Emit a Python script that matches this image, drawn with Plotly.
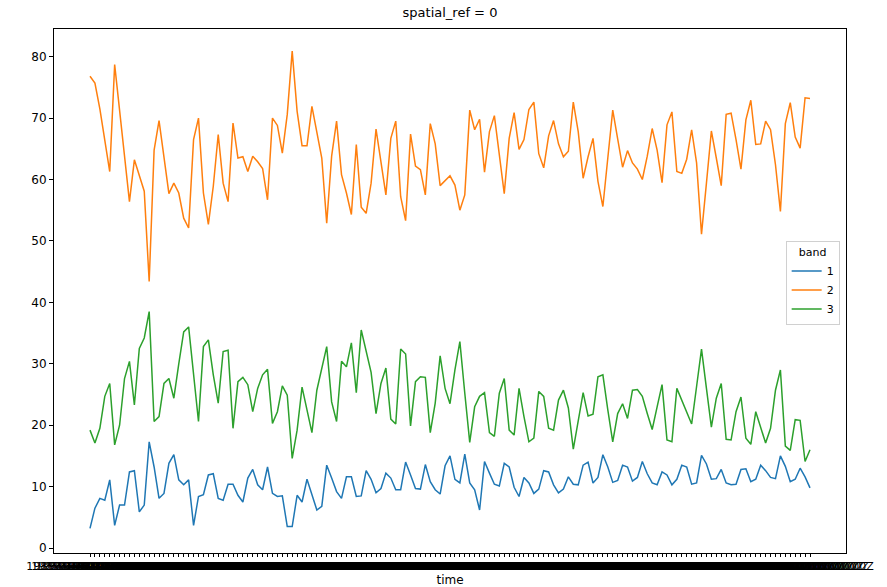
import plotly.graph_objects as go
import pandas as pd

# time categories (labels are illegible in the reference; quarterly dates used)
time_labels = [d.strftime("%Y-%m-%dT%H:%M:%SZ") for d in pd.date_range("1985-01-01", periods=147, freq="QS")]

band_names = ["1", "2", "3"]

band1 = [3.2, 6.5, 8.1, 7.8, 11.1, 3.7, 7.0, 7.0, 12.4, 12.6, 5.9, 7.0, 17.3, 13.2, 8.1, 8.9, 13.8, 15.2,
         11.1, 10.3, 11.1, 3.7, 8.4, 8.7, 11.9, 12.1, 8.1, 7.8, 10.4, 10.4, 8.6, 7.5, 11.4, 12.8, 10.3, 9.5, 13.2,
         8.9, 8.4, 8.5, 3.5, 3.5, 8.6, 7.5, 11.2, 8.6, 6.2, 6.8, 13.5, 11.4, 9.2, 8.1, 11.6, 11.6, 8.4, 8.5,
         12.6, 11.2, 9.0, 9.7, 12.2, 11.4, 9.5, 9.5, 14.0, 11.9, 9.7, 9.6, 13.6, 10.8, 9.5, 8.8, 13.4, 15.0,
         11.2, 10.6, 15.3, 10.6, 9.5, 6.2, 14.1, 12.2, 10.4, 10.1, 13.8, 13.2, 9.9, 8.4, 11.5, 10.6, 8.9, 9.6, 12.6,
         12.4, 10.3, 9.0, 9.6, 11.6, 10.4, 10.3, 13.5, 14.0, 10.6, 11.5, 15.2, 13.2, 10.7, 11.0, 13.5, 13.2, 10.9, 11.5,
         14.1, 12.1, 10.6, 10.3, 12.4, 11.9, 10.3, 11.2, 13.5, 13.2, 10.4, 10.6, 15.1, 13.7, 11.2, 11.3, 12.8, 10.6,
         10.3, 10.4, 12.8, 12.9, 10.8, 11.2, 13.5, 12.6, 11.5, 11.3, 15.0, 13.3, 10.8, 11.2, 13.0, 11.6, 9.8]

band2 = [76.8, 75.7, 71.5, 66.5, 61.3, 78.7, 71.3, 64.0, 56.4, 63.2, 60.8, 58.1, 43.4, 64.8, 69.6, 63.5, 57.7, 59.4,
         57.8, 53.7, 52.1, 66.5, 70.0, 57.8, 52.7, 58.9, 67.3, 59.4, 56.4, 69.2, 63.5, 63.7, 61.3, 63.8, 62.9, 61.8, 56.7,
         70.0, 68.8, 64.3, 70.6, 80.9, 71.1, 65.5, 65.5, 71.9, 67.8, 63.5, 52.9, 63.8, 69.5, 60.8, 57.8, 54.3, 65.7, 55.5,
         54.5, 59.4, 68.2, 62.7, 57.5, 66.7, 69.5, 57.2, 53.3, 67.4, 62.2, 61.6, 57.5, 69.1, 65.8, 59.0, 59.8, 60.6,
         59.1, 55.0, 57.5, 71.3, 68.1, 69.8, 61.2, 67.8, 70.4, 64.0, 57.7, 66.7, 70.9, 64.9, 66.5, 71.4, 72.6, 64.2, 61.9,
         67.1, 69.6, 65.8, 63.7, 64.6, 72.6, 67.8, 60.2, 63.7, 66.7, 59.7, 55.6, 63.5, 71.3, 66.6, 62.0, 64.7, 62.7, 61.7,
         60.0, 63.8, 68.3, 64.8, 59.5, 68.9, 71.0, 61.3, 61.0, 63.3, 68.1, 62.7, 51.1, 59.4, 67.9, 63.5, 59.0, 70.6,
         70.8, 66.5, 61.7, 69.7, 72.9, 65.7, 65.8, 69.5, 68.1, 62.4, 54.8, 69.1, 72.5, 66.9, 65.1, 73.3, 73.2]

band3 = [19.2, 17.1, 19.5, 24.7, 26.8, 16.8, 20.0, 27.6, 30.4, 23.3, 32.5, 34.2, 38.5, 20.6, 21.4, 26.8, 27.6, 24.4,
         30.0, 35.2, 36.0, 28.0, 20.6, 32.8, 33.9, 28.2, 23.6, 32.0, 32.2, 19.5, 27.1, 27.8, 26.6, 22.2, 26.0, 28.2, 29.1,
         20.3, 22.2, 26.4, 24.9, 14.6, 19.2, 26.2, 22.5, 18.8, 25.7, 29.3, 32.8, 23.8, 20.6, 30.4, 29.5, 33.4, 25.3, 35.5,
         32.3, 28.6, 21.9, 26.8, 29.3, 21.0, 20.2, 32.4, 31.6, 19.9, 27.1, 27.9, 27.8, 18.8, 23.6, 31.3, 26.0, 23.5,
         29.0, 33.6, 25.2, 17.2, 23.0, 24.7, 25.3, 18.8, 18.2, 25.2, 27.6, 19.2, 18.4, 26.0, 21.4, 17.3, 17.9, 25.5, 24.7,
         19.5, 19.2, 24.1, 25.7, 22.8, 16.1, 20.9, 25.3, 21.5, 21.8, 27.9, 28.2, 22.5, 17.3, 21.9, 23.5, 21.1, 25.7, 25.8,
         24.7, 21.9, 19.3, 23.0, 26.6, 17.6, 17.3, 26.0, 24.1, 21.9, 20.2, 26.3, 32.4, 26.0, 19.7, 24.4, 26.8, 17.7,
         17.6, 22.2, 24.6, 17.9, 16.9, 22.2, 19.5, 17.1, 19.5, 25.7, 29.0, 16.6, 15.9, 20.9, 20.8, 14.1, 16.0]

colors = ["#1f77b4", "#ff7f0e", "#2ca02c"]
font = "DejaVu Sans, sans-serif"

fig = go.Figure()
for name, vals, c in zip(band_names, [band1, band2, band3], colors):
    fig.add_trace(go.Scatter(x=time_labels, y=vals, mode="lines", name=name,
                             line=dict(color=c, width=1.5)))

n = len(time_labels)
pad = 0.05 * (n - 1)

fig.update_layout(
    width=887, height=587,
    margin=dict(l=54, r=41, t=29, b=34),
    paper_bgcolor="white", plot_bgcolor="white",
    font=dict(family=font, size=12, color="black"),
    title=dict(text="spatial_ref = 0", x=0.5, xref="paper", xanchor="center",
               y=1 - 12 / 587, yref="container", yanchor="middle", pad=dict(t=0, b=0),
               font=dict(family=font, size=13, color="black")),
    showlegend=True,
    legend=dict(title=dict(text="band", side="top center", font=dict(size=11)),
                x=0.992, xanchor="right", y=0.515, yanchor="middle",
                bgcolor="white", bordercolor="#d0d0d0", borderwidth=1,
                font=dict(family=font, size=11), itemwidth=30, tracegroupgap=0),
)
fig.update_xaxes(type="category", range=[-pad, n - 1 + pad], dtick=1, tickangle=0,
                 showline=True, linecolor="black", linewidth=1, mirror=True,
                 ticks="outside", ticklen=3, tickcolor="black", showgrid=False, zeroline=False,
                 tickfont=dict(family=font, size=11, color="black"),
                 title=dict(text="time", standoff=3, font=dict(family=font, size=12)), automargin=False)
fig.update_yaxes(range=[-0.8, 84.5], tickmode="linear", tick0=0, dtick=10,
                 showline=True, linecolor="black", linewidth=1, mirror=True,
                 ticks="outside", ticklen=4, tickcolor="black", showgrid=False, zeroline=False,
                 tickfont=dict(family=font, size=12, color="black"), automargin=False)

fig.write_html("out.html", config={"displayModeBar": False},
               post_script="document.body.style.margin='0';document.body.style.padding='0';")
